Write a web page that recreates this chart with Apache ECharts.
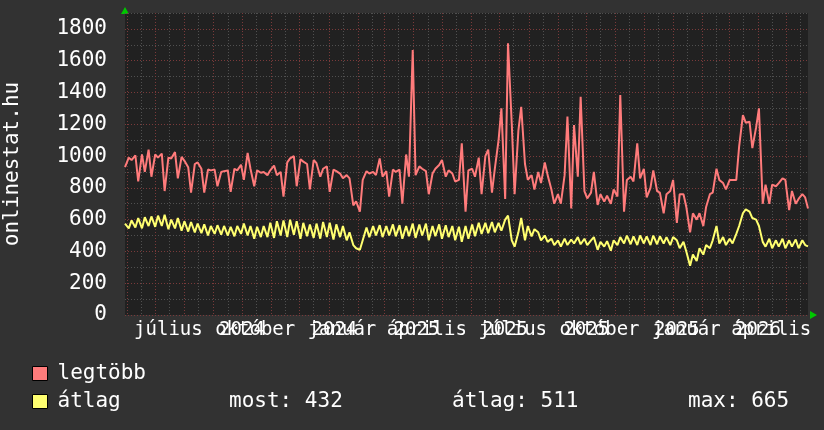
<!DOCTYPE html>
<html><head><meta charset="utf-8">
<script src="https://cdn.jsdelivr.net/npm/echarts@6/dist/echarts.min.js"></script>
<style>html,body{margin:0;padding:0;background:#323232;}#c{width:824px;height:430px;}</style>
</head><body><div id="c"></div>
<script>
// ---- data ----
const startDate = '2024-05-30';
const dayCount = 725;
const sampleStepDays = 3.5;
const seriesNames = ['legtöbb', 'átlag'];
const legtobb = [
 930, 990, 975, 1005, 840, 1010, 900, 1040, 870, 1010,
 990, 1015, 780, 990, 985, 1025, 860, 995, 970, 930,
 770, 950, 960, 920, 770, 915, 910, 915, 810, 900,
 905, 910, 775, 920, 910, 945, 850, 1020, 920, 810,
 910, 895, 900, 880, 910, 940, 880, 900, 745, 960,
 985, 1000, 810, 980, 965, 950, 790, 975, 955, 870,
 920, 935, 775, 915, 905, 890, 860, 880, 860, 690,
 715, 650, 850, 905, 890, 900, 880, 985, 870, 905,
 745, 915, 900, 915, 700, 1010, 870, 1667, 880, 935,
 920, 905, 760, 890, 920, 944, 975, 870, 910, 890,
 840, 850, 1080, 650, 910, 920, 870, 990, 760, 1000,
 1040, 770, 920, 1100, 1300, 730, 1709, 1200, 760, 1160,
 1310, 950, 850, 880, 790, 900, 830, 960, 880, 790,
 700, 760, 700, 880, 1248, 670, 1195, 870, 1373, 780,
 734, 770, 900, 692, 760, 713, 750, 700, 790, 745,
 1384, 650, 850, 870, 840, 1080, 860, 920, 740, 800,
 910, 780, 770, 640, 760, 780, 850, 580, 760, 760,
 680, 520, 640, 600, 640, 560, 680, 760, 770, 920,
 850, 830, 790, 850, 850, 850, 1060, 1258, 1210, 1216,
 1050, 1180, 1300, 700, 820, 700, 820, 810, 830, 860,
 850, 660, 780, 700, 730, 760, 740, 670
];
const atlag = [
 575, 545, 595, 550, 610, 545, 615, 560, 620, 555,
 625, 560, 630, 540, 600, 545, 610, 530, 590, 525,
 585, 520, 575, 515, 570, 500, 560, 510, 565, 505,
 560, 500, 555, 495, 560, 510, 575, 500, 560, 480,
 555, 490, 560, 490, 580, 485, 590, 500, 595, 490,
 600, 505, 590, 480, 580, 495, 570, 485, 575, 480,
 585, 490, 580, 475, 570, 490, 560, 470, 520, 440,
 420, 410, 470, 550, 490, 560, 500, 565, 490, 560,
 500, 570, 495, 565, 480, 560, 495, 575, 485, 570,
 500, 575, 470, 560, 495, 570, 480, 565, 490, 560,
 470, 555, 460, 560, 480, 570, 495, 580, 510, 580,
 515, 585, 520, 580, 530, 600, 625, 470, 430, 520,
 610, 470, 560, 495, 540, 520, 470, 500, 460, 480,
 440, 470, 430, 480, 440, 475, 450, 490, 445, 480,
 440, 470, 490, 410, 460, 430, 465, 405, 470, 440,
 490, 450, 500, 445, 495, 440, 500, 450, 495, 440,
 500, 445, 495, 450, 490, 440, 490, 470, 420, 460,
 400, 310, 380, 340, 420, 380, 440, 420, 470, 560,
 450, 490, 440, 480, 450, 510, 560, 640, 665, 650,
 610, 600, 560, 460, 430, 480, 420, 470, 430, 480,
 420, 470, 430, 475, 420, 470, 440, 432
];
const monthLabelDates = ['2024-07-15','2024-10-15','2025-01-15','2025-04-15','2025-07-15','2025-10-15','2026-01-15','2026-04-15'];
const monthLabels = ['július','október','január','április','július','október','január','április'];
const yearLabelDates = ['2024-10-01','2025-01-07','2025-04-04','2025-07-07','2025-10-01','2026-01-05','2026-04-01'];
const yearLabels = ['2024', '2024', '2025', '2025', '2025', '2025', '2026'];
const yMax = 1900;
const yLabelStep = 200;
const statLabels = ['most: 432', 'átlag: 511', 'max: 665'];

// ---- build ----
const FONT = "'DejaVu Sans Mono', monospace";
const dates = [];
const t0 = Date.parse(startDate + 'T00:00:00Z');
for (let d = 0; d < dayCount; d++) dates.push(new Date(t0 + d * 86400000).toISOString().slice(0, 10));
function spread(vals) {
  const a = new Array(dayCount).fill(null);
  vals.forEach((v, i) => { a[Math.min(dayCount - 1, Math.round(i * sampleStepDays))] = v; });
  return a;
}
const RED_GRID = '#7a3a3a', GREY_GRID = '#505050';
const chart = echarts.init(document.getElementById('c'), null, {renderer: 'canvas'});
const catAxisBase = {
  type: 'category', data: dates, boundaryGap: false, position: 'bottom',
  axisTick: {show: false}, axisLine: {show: false}
};
chart.setOption({
  animation: false,
  backgroundColor: '#323232',
  grid: {left: 125, right: 16, top: 13, bottom: 115, show: true, backgroundColor: '#212121', borderWidth: 0,
         containLabel: false, outerBoundsMode: 'none'},
  legend: {
    data: seriesNames, orient: 'vertical', left: 32, top: 363, itemGap: 7, padding: 0,
    itemWidth: 15, itemHeight: 14, icon: 'rect', selectedMode: false,
    itemStyle: {borderColor: '#000', borderWidth: 1},
    textStyle: {color: '#fff', fontFamily: FONT, fontSize: 21, padding: [0, 0, 0, 5]}
  },
  xAxis: [
    Object.assign({}, catAxisBase, {
      splitLine: {show: true, interval: (i, v) => v.slice(8) === '01', lineStyle: {color: RED_GRID, type: [1, 2], width: 1}},
      axisLabel: {
        interval: (i, v) => monthLabelDates.indexOf(v) >= 0,
        formatter: v => monthLabels[monthLabelDates.indexOf(v)] || '',
        color: '#fff', fontFamily: FONT, fontSize: 19, margin: 6
      }
    }),
    Object.assign({}, catAxisBase, {
      splitLine: {show: true, interval: (i, v) => v.slice(8) === '16', lineStyle: {color: GREY_GRID, type: [1, 2], width: 1}},
      axisLabel: {
        interval: (i, v) => yearLabelDates.indexOf(v) >= 0,
        formatter: v => yearLabels[yearLabelDates.indexOf(v)] || '',
        color: '#fff', fontFamily: FONT, fontSize: 19, margin: 6
      }
    })
  ],
  yAxis: {
    type: 'value', min: 0, max: yMax, interval: 100,
    name: 'onlinestat.hu', nameLocation: 'middle', nameRotate: 90, nameGap: 102,
    nameTextStyle: {color: '#fff', fontFamily: FONT, fontSize: 21},
    axisLine: {show: false}, axisTick: {show: false},
    axisLabel: {color: '#fff', fontFamily: FONT, fontSize: 21, margin: 18,
      formatter: v => (v % yLabelStep === 0 ? String(v) : '')},
    splitLine: {show: true, lineStyle: {color: [RED_GRID, GREY_GRID], type: [1, 2], width: 1}}
  },
  series: [
    {name: seriesNames[0], type: 'line', data: spread(legtobb), connectNulls: true, showSymbol: false,
     color: '#ff7b7b', lineStyle: {width: 2, color: '#ff7b7b'}, z: 3},
    {name: seriesNames[1], type: 'line', data: spread(atlag), connectNulls: true, showSymbol: false,
     color: '#ffff70', lineStyle: {width: 2, color: '#ffff70'}, z: 4}
  ],
  graphic: [
    {type: 'polygon', shape: {points: [[125, 7], [121, 14], [129, 14]]}, style: {fill: '#00c800'}},
    {type: 'polygon', shape: {points: [[810, 311], [810, 319], [817, 315]]}, style: {fill: '#00c800'}},
    {type: 'text', left: 229, top: 391, style: {text: statLabels[0], fill: '#fff', font: '21px ' + FONT}},
    {type: 'text', left: 452, top: 391, style: {text: statLabels[1], fill: '#fff', font: '21px ' + FONT}},
    {type: 'text', left: 688, top: 391, style: {text: statLabels[2], fill: '#fff', font: '21px ' + FONT}}
  ]
});
</script>
</body></html>
